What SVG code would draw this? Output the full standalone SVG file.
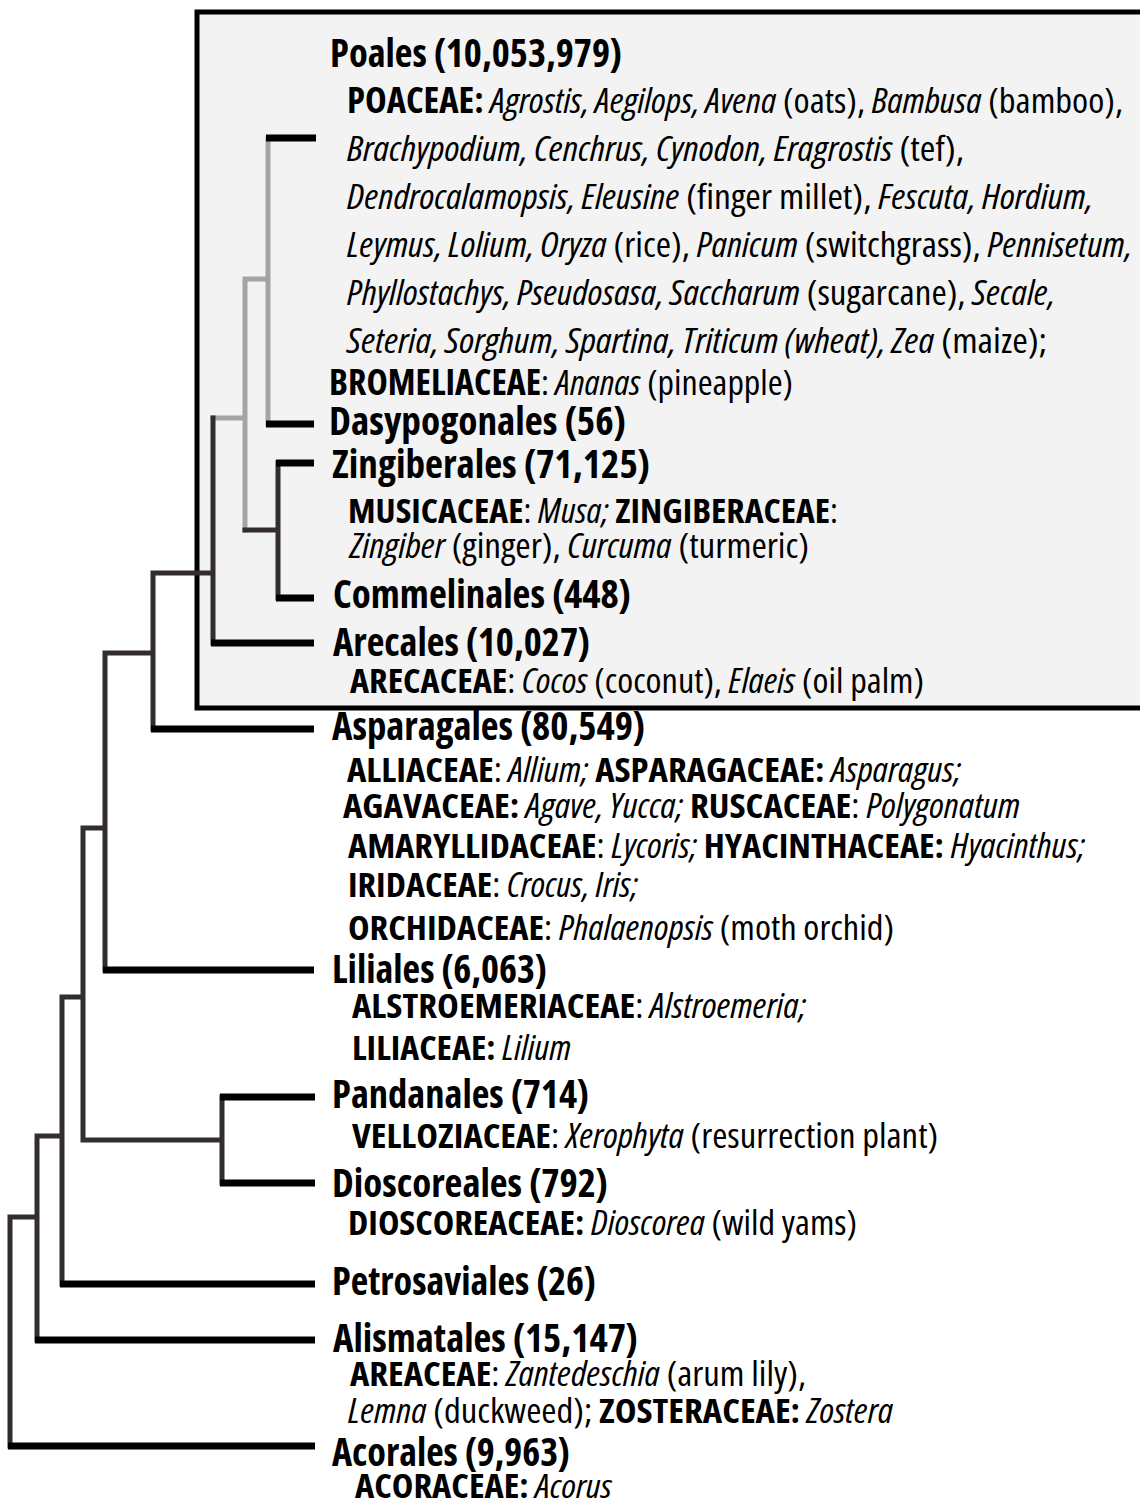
<svg xmlns="http://www.w3.org/2000/svg" width="1140" height="1506" viewBox="0 0 1140 1506">
<style>
text{font-family:"Open Sans","Noto Sans","Liberation Sans",sans-serif;font-stretch:condensed;fill:#000;}
.h{font-size:39px;font-weight:700;}
.f{font-size:34px;font-weight:400;}
.fp{font-size:35px;font-weight:400;}
.b{font-weight:700;font-style:normal;}
.i{font-style:italic;}
.leaf{stroke:#000;stroke-width:7;fill:none;stroke-linecap:butt;}
.br{stroke:#332d2e;stroke-width:5;fill:none;stroke-linecap:square;}
.gr{stroke:#a4a4a4;stroke-width:5;fill:none;stroke-linecap:square;}
</style>
<rect width="1140" height="1506" fill="#fff"/>
<g id="commelinids-box">
<rect x="197" y="12" width="960" height="696" fill="#f3f3f3" stroke="#000" stroke-width="5"/>
</g>
<g id="connectors">
<path class="gr" d="M268,138 V424 M245,279 H268 M245,279 V530 M213,418 H245"/>
<path class="br" d="M245,530 H278 M278,463 V598 M213,418 V643 M153,573 H213 M153,573 V729 M105,653 H153 M105,653 V970 M83,828 H105 M83,828 V1140 M83,1140 H222 M222,1097 V1183 M62,997 H83 M62,997 V1284 M37,1136 H62 M37,1136 V1340 M10,1217 H37 M10,1217 V1446"/>
<path class="leaf" d="M266,138 H316 M266,424 H314 M276,463 H314 M276,598 H314 M211,643 H314 M151,729 H314 M103,970 H314 M220,1097 H315 M220,1183 H315 M60,1284 H315 M35,1340 H315 M8,1446 H315"/>
</g>
<g id="poales">
<text class="h" x="330" y="67" textLength="292" lengthAdjust="spacingAndGlyphs">Poales (10,053,979)</text>
<text class="fp" x="347" y="113" textLength="776" lengthAdjust="spacingAndGlyphs"><tspan class="b">POACEAE:</tspan> <tspan class="i">Agrostis, Aegilops, Avena</tspan> (oats), <tspan class="i">Bambusa</tspan> (bamboo),</text>
<text class="fp" x="347" y="161" textLength="617" lengthAdjust="spacingAndGlyphs"><tspan class="i">Brachypodium, Cenchrus, Cynodon, Eragrostis</tspan> (tef),</text>
<text class="fp" x="347" y="209" textLength="746" lengthAdjust="spacingAndGlyphs"><tspan class="i">Dendrocalamopsis, Eleusine</tspan> (finger millet), <tspan class="i">Fescuta, Hordium,</tspan></text>
<text class="fp" x="347" y="257" textLength="785" lengthAdjust="spacingAndGlyphs"><tspan class="i">Leymus, Lolium, Oryza</tspan> (rice), <tspan class="i">Panicum</tspan> (switchgrass), <tspan class="i">Pennisetum,</tspan></text>
<text class="fp" x="347" y="305" textLength="708" lengthAdjust="spacingAndGlyphs"><tspan class="i">Phyllostachys, Pseudosasa, Saccharum</tspan> (sugarcane), <tspan class="i">Secale,</tspan></text>
<text class="fp" x="347" y="353" textLength="700" lengthAdjust="spacingAndGlyphs"><tspan class="i">Seteria, Sorghum, Spartina, Triticum (wheat), Zea</tspan> (maize);</text>
<text class="fp" x="329" y="395" textLength="464" lengthAdjust="spacingAndGlyphs"><tspan class="b">BROMELIACEAE</tspan>: <tspan class="i">Ananas</tspan> (pineapple)</text>
</g>
<g id="dasypogonales">
<text class="h" x="329" y="435" textLength="297" lengthAdjust="spacingAndGlyphs">Dasypogonales (56)</text>
</g>
<g id="zingiberales">
<text class="h" x="332" y="478" textLength="318" lengthAdjust="spacingAndGlyphs">Zingiberales (71,125)</text>
<text class="f" x="348" y="523" textLength="490" lengthAdjust="spacingAndGlyphs"><tspan class="b">MUSICACEAE</tspan>: <tspan class="i">Musa;</tspan> <tspan class="b">ZINGIBERACEAE</tspan>:</text>
<text class="f" x="350" y="558" textLength="459" lengthAdjust="spacingAndGlyphs"><tspan class="i">Zingiber</tspan> (ginger), <tspan class="i">Curcuma</tspan> (turmeric)</text>
</g>
<g id="commelinales">
<text class="h" x="333" y="608" textLength="298" lengthAdjust="spacingAndGlyphs">Commelinales (448)</text>
</g>
<g id="arecales">
<text class="h" x="333" y="656" textLength="257" lengthAdjust="spacingAndGlyphs">Arecales (10,027)</text>
<text class="f" x="350" y="693" textLength="574" lengthAdjust="spacingAndGlyphs"><tspan class="b">ARECACEAE</tspan>: <tspan class="i">Cocos</tspan> (coconut), <tspan class="i">Elaeis</tspan> (oil palm)</text>
</g>
<g id="asparagales">
<text class="h" x="332" y="740" textLength="313" lengthAdjust="spacingAndGlyphs">Asparagales (80,549)</text>
<text class="f" x="347" y="782" textLength="614" lengthAdjust="spacingAndGlyphs"><tspan class="b">ALLIACEAE</tspan>: <tspan class="i">Allium;</tspan> <tspan class="b">ASPARAGACEAE:</tspan> <tspan class="i">Asparagus;</tspan></text>
<text class="f" x="343" y="818" textLength="677" lengthAdjust="spacingAndGlyphs"><tspan class="b">AGAVACEAE:</tspan> <tspan class="i">Agave, Yucca;</tspan> <tspan class="b">RUSCACEAE</tspan>: <tspan class="i">Polygonatum</tspan></text>
<text class="f" x="348" y="858" textLength="737" lengthAdjust="spacingAndGlyphs"><tspan class="b">AMARYLLIDACEAE</tspan>: <tspan class="i">Lycoris;</tspan> <tspan class="b">HYACINTHACEAE:</tspan> <tspan class="i">Hyacinthus;</tspan></text>
<text class="f" x="348" y="897" textLength="290" lengthAdjust="spacingAndGlyphs"><tspan class="b">IRIDACEAE</tspan>: <tspan class="i">Crocus, Iris;</tspan></text>
<text class="f" x="348" y="940" textLength="546" lengthAdjust="spacingAndGlyphs"><tspan class="b">ORCHIDACEAE</tspan>: <tspan class="i">Phalaenopsis</tspan> (moth orchid)</text>
</g>
<g id="liliales">
<text class="h" x="332" y="983" textLength="215" lengthAdjust="spacingAndGlyphs">Liliales (6,063)</text>
<text class="f" x="352" y="1018" textLength="454" lengthAdjust="spacingAndGlyphs"><tspan class="b">ALSTROEMERIACEAE</tspan>: <tspan class="i">Alstroemeria;</tspan></text>
<text class="f" x="352" y="1060" textLength="219" lengthAdjust="spacingAndGlyphs"><tspan class="b">LILIACEAE:</tspan> <tspan class="i">Lilium</tspan></text>
</g>
<g id="pandanales">
<text class="h" x="332" y="1108" textLength="257" lengthAdjust="spacingAndGlyphs">Pandanales (714)</text>
<text class="f" x="352" y="1148" textLength="586" lengthAdjust="spacingAndGlyphs"><tspan class="b">VELLOZIACEAE</tspan>: <tspan class="i">Xerophyta</tspan> (resurrection plant)</text>
</g>
<g id="dioscoreales">
<text class="h" x="332" y="1197" textLength="276" lengthAdjust="spacingAndGlyphs">Dioscoreales (792)</text>
<text class="f" x="348" y="1235" textLength="509" lengthAdjust="spacingAndGlyphs"><tspan class="b">DIOSCOREACEAE:</tspan> <tspan class="i">Dioscorea</tspan> (wild yams)</text>
</g>
<g id="petrosaviales">
<text class="h" x="332" y="1295" textLength="264" lengthAdjust="spacingAndGlyphs">Petrosaviales (26)</text>
</g>
<g id="alismatales">
<text class="h" x="333" y="1352" textLength="305" lengthAdjust="spacingAndGlyphs">Alismatales (15,147)</text>
<text class="f" x="350" y="1386" textLength="456" lengthAdjust="spacingAndGlyphs"><tspan class="b">AREACEAE</tspan>: <tspan class="i">Zantedeschia</tspan> (arum lily),</text>
<text class="f" x="348" y="1423" textLength="545" lengthAdjust="spacingAndGlyphs"><tspan class="i">Lemna</tspan> (duckweed); <tspan class="b">ZOSTERACEAE:</tspan> <tspan class="i">Zostera</tspan></text>
</g>
<g id="acorales">
<text class="h" x="332" y="1466" textLength="238" lengthAdjust="spacingAndGlyphs">Acorales (9,963)</text>
<text class="f" x="355" y="1498" textLength="257" lengthAdjust="spacingAndGlyphs" style="font-size:33px"><tspan class="b">ACORACEAE:</tspan> <tspan class="i">Acorus</tspan></text>
</g>
</svg>
